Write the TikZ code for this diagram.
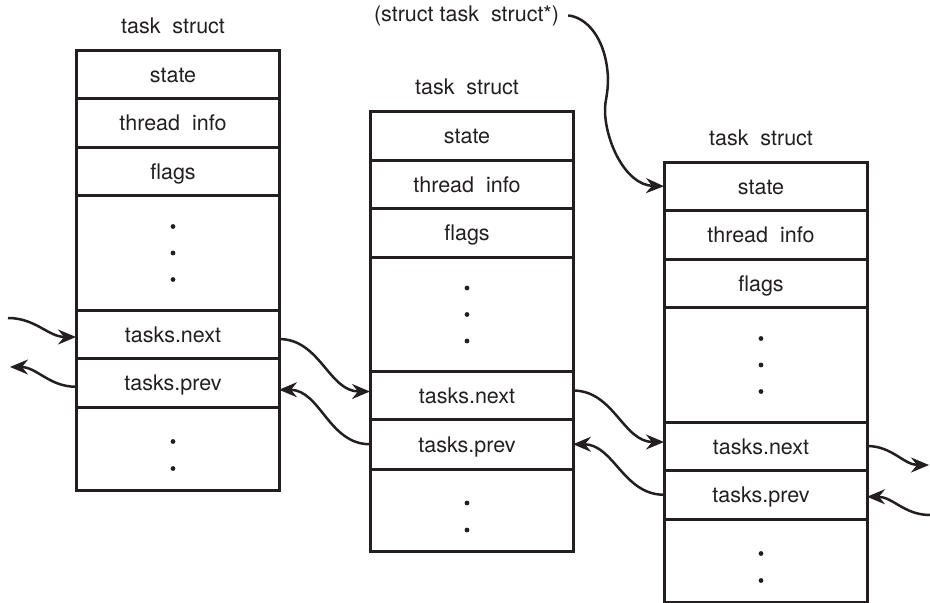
\documentclass[tikz,border=0pt]{standalone}
\usepackage{fontspec}
\setmainfont{TeX Gyre Heros}
\usetikzlibrary{arrows.meta,positioning,calc}
\definecolor{ink}{RGB}{35,31,32}

\begin{document}
\begin{tikzpicture}[x=1pt,y=-1pt,font=\fontsize{21.5}{25}\selectfont,color=ink,
  field/.style={draw,line width=3pt,minimum width=203pt,inner sep=0pt,outer sep=0pt,
    anchor=north west,text height=16pt,text depth=0pt,execute at end node={\hspace*{9pt}}},
  link/.style={line width=2.5pt,-{Stealth[length=18pt,width=15pt,inset=6pt]}}]
\useasboundingbox (0,0) rectangle (930,603);
% three task structs
\foreach \c/\x/\y in {1/76/50,2/370/111.5,3/664/162} {
  \node[anchor=base] (title\c) at (\x+97,\y-17) {task~ struct};
  \foreach \r/\dy/\h/\txt in {state/0/48.5/state,thread/48.5/48.5/thread~ info,flags/97/48.5/flags,
      more/145.5/114.5/,next/260/48/tasks.next,prev/308/49.5/tasks.prev,rest/357.5/82.5/} {
    \node[field,minimum height=\h pt] (c\c-\r) at (\x,\y+\dy) {\txt};
  }
  % dots
  \foreach \d in {31,57.5,84}
    \fill (\x+97,\y+145.5+\d) circle (2.4pt);
  \foreach \d in {34,61}
    \fill (\x+97,\y+357.5+\d) circle (2.4pt);
}
% pointer to the current task
\node[anchor=base,inner sep=2pt] (ptr) at (466.5,21) {(struct task~ struct*)};
\draw[link] ([xshift=7pt]ptr.east) .. controls (585,17) and (606,36) .. (608,78)
  .. controls (608,95) and (605,100) .. (605,110)
  .. controls (605,140) and (625,185) .. (c3-state.west);
% list links between the structs
\draw[link] ([yshift=-5pt]c1-next.east) to[out=0,in=180] ([yshift=4pt]c2-next.west);
\draw[link] (c2-prev.west) to[out=180,in=0] ([yshift=-7pt]c1-prev.east);
\draw[link] ([yshift=5pt]c2-next.east) to[out=0,in=180] ([yshift=4pt]c3-next.west);
\draw[link] (c3-prev.west) to[out=180,in=0] (c2-prev.east);
% loose ends of the list
\coordinate (inL) at (8,318);
\coordinate (outL) at (10,367);
\coordinate (outR) at (929,465);
\coordinate (inR) at (930,515);
\draw[link] (inL) to[out=0,in=180] ([yshift=-3pt]c1-next.west);
\draw[link] ([yshift=-4pt]c1-prev.west) to[out=180,in=0] (outL);
\draw[link] (c3-next.east) to[out=0,in=180] (outR);
\draw[link] (inR) to[out=180,in=0] ([yshift=-2pt]c3-prev.east);
\end{tikzpicture}
\end{document}
